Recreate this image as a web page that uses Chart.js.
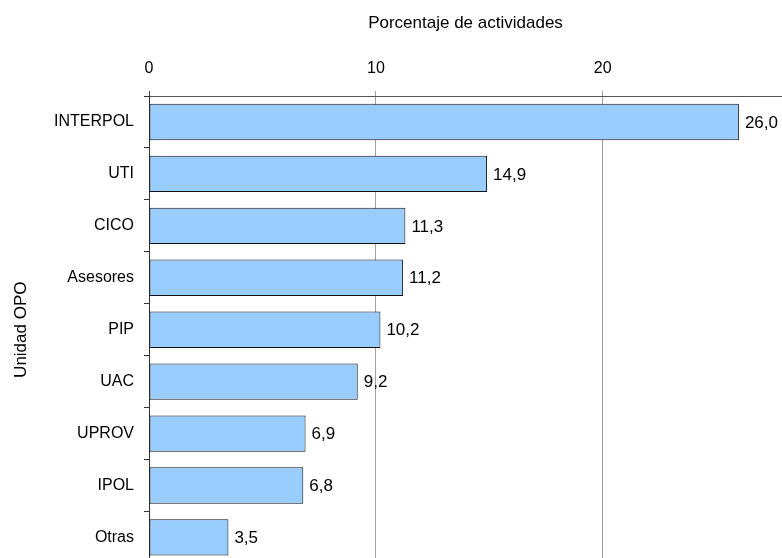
<!DOCTYPE html>
<html>
<head>
<meta charset="utf-8">
<script src="https://cdn.jsdelivr.net/npm/chart.js@4"></script>
<style>
  html, body { margin: 0; padding: 0; background: #fff; overflow: hidden; }
  #wrap { position: relative; width: 782px; height: 583px; }
</style>
</head>
<body>
<div id="wrap"><canvas id="chart"></canvas></div>
<script>
// Datos
const unidades = ["INTERPOL", "UTI", "CICO", "Asesores", "PIP", "UAC", "UPROV", "IPOL", "Otras"];
const porcentajes = [26.0, 14.9, 11.3, 11.2, 10.2, 9.2, 6.9, 6.8, 3.5];
const xTicks = [0, 10, 20];

const fuente = "'Liberation Sans', Arial, sans-serif";

// Etiquetas de valor a la derecha de cada barra (coma decimal)
const etiquetasValor = {
  id: 'etiquetasValor',
  afterDatasetsDraw(chart) {
    const ctx = chart.ctx;
    const meta = chart.getDatasetMeta(0);
    ctx.save();
    ctx.font = '17px ' + fuente;
    ctx.fillStyle = '#000';
    ctx.textAlign = 'left';
    ctx.textBaseline = 'middle';
    meta.data.forEach((bar, i) => {
      const txt = porcentajes[i].toFixed(1).replace('.', ',');
      ctx.fillText(txt, bar.x + 6, bar.y + 1);
    });
    ctx.restore();
  }
};

new Chart(document.getElementById('chart'), {
  type: 'bar',
  data: {
    labels: unidades,
    datasets: [{
      data: porcentajes,
      backgroundColor: '#99CCFF',
      borderColor: '#111',
      borderWidth: 1,
      borderSkipped: false,
      barPercentage: 0.7,
      categoryPercentage: 1
    }]
  },
  options: {
    indexAxis: 'y',
    responsive: true,
    maintainAspectRatio: false,
    animation: false,
    layout: { padding: 0 },
    plugins: {
      legend: { display: false },
      tooltip: { enabled: false }
    },
    scales: {
      x: {
        position: 'top',
        min: 0,
        max: 27.9,
        afterBuildTicks(scale) {
          scale.ticks = xTicks.map(v => ({ value: v }));
        },
        afterFit(scale) { scale.height = 96; },
        ticks: {
          color: '#000',
          font: { family: fuente, size: 16 },
          padding: 13,
          callback: v => v
        },
        grid: {
          color: ctx => ctx.tick && ctx.tick.value === 0 ? '#404040' : '#a0a0a0',
          tickColor: ctx => ctx.tick && ctx.tick.value === 0 ? '#404040' : '#a0a0a0',
          tickLength: 5,
          lineWidth: 1
        },
        border: { display: true, color: '#555', width: 1 },
        title: {
          display: true,
          text: 'Porcentaje de actividades',
          color: '#000',
          font: { family: fuente, size: 17, weight: 'normal' },
          padding: { top: 13, bottom: 0 }
        }
      },
      y: {
        afterFit(scale) { scale.width = 149; },
        ticks: {
          color: '#000',
          font: { family: fuente, size: 16 },
          padding: 10
        },
        grid: {
          offset: true,
          drawOnChartArea: false,
          drawTicks: true,
          tickLength: 5,
          tickColor: '#333'
        },
        border: { display: true, color: '#333', width: 1 },
        title: {
          display: true,
          text: 'Unidad OPO',
          color: '#000',
          font: { family: fuente, size: 17, weight: 'normal' },
          padding: { top: 11, bottom: 0 }
        }
      }
    }
  },
  plugins: [etiquetasValor]
});
</script>
</body>
</html>
